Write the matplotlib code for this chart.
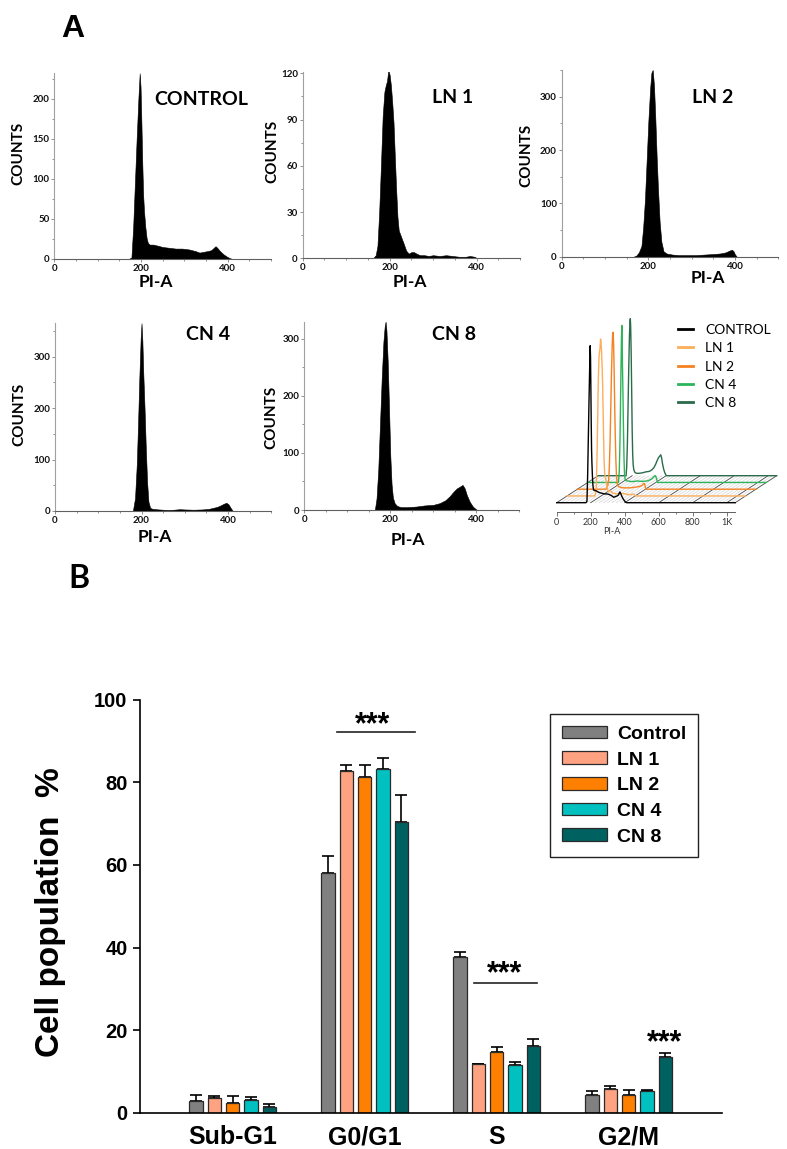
import numpy as np
import matplotlib
matplotlib.use('Agg')
import matplotlib.pyplot as plt
from matplotlib.ticker import MultipleLocator, FixedLocator

W, H = 787, 1149

# ---------------- Panel A: DNA-content histograms (PI-A channel vs counts)
control_pi = [172, 178, 182, 186, 190, 194, 197, 199, 201, 203, 205, 207, 210, 213, 216, 220, 228, 236,
              250, 265, 280, 295, 310, 325, 335, 345, 355, 362, 368, 372, 376, 382, 390, 398, 405, 412]
control_counts = [0, 2, 40, 95, 150, 200, 232, 215, 170, 120, 80, 60, 40, 26, 20, 18, 18, 17,
                  15, 14, 13, 13, 12, 10, 8, 9, 10, 11, 14, 16, 14, 10, 6, 3, 1, 0]

ln1_pi = [162, 168, 172, 176, 180, 184, 188, 191, 194, 197, 200, 203, 206, 209, 212, 215, 218, 221, 225,
          229, 233, 238, 244, 250, 256, 262, 270, 280, 290, 300, 315, 330, 345, 360, 375, 385, 395, 402]
ln1_counts = [0, 2, 8, 30, 60, 92, 108, 112, 115, 122, 119, 112, 101, 88, 66, 45, 27, 18, 15,
              12, 9, 5, 3, 4, 4, 3, 2, 2, 1.5, 2, 1.5, 2, 1.5, 1, 1, 1.5, 1, 0]

ln2_pi = [166, 172, 178, 184, 188, 192, 196, 200, 204, 207, 210, 213, 216, 219, 222, 226,
          230, 235, 242, 255, 270, 290, 310, 330, 350, 365, 378, 386, 392, 396, 400, 404]
ln2_counts = [0, 2, 8, 20, 55, 106, 180, 255, 315, 345, 350, 320, 260, 190, 130, 65,
              28, 10, 6, 4, 3, 3, 3, 4, 5, 6, 8, 11, 13, 11, 4, 0]

cn4_pi = [180, 185, 189, 192, 195, 198, 200, 202, 204, 207, 210, 213, 216, 220, 226, 240,
          260, 275, 288, 300, 320, 340, 355, 365, 375, 383, 390, 396, 401, 406, 411]
cn4_counts = [0, 25, 90, 170, 260, 335, 365, 330, 270, 200, 120, 55, 18, 6, 4, 3,
              2, 2.5, 3.5, 3, 2.5, 3, 4, 6, 8, 11, 14, 16, 13, 6, 0]

cn8_pi = [164, 168, 172, 176, 180, 184, 187, 189, 191, 194, 197, 200, 203, 206, 210, 216, 225,
          240, 260, 280, 300, 315, 328, 338, 347, 355, 362, 368, 373, 378, 385, 392, 398, 402]
cn8_counts = [0, 20, 70, 150, 230, 295, 322, 330, 315, 260, 180, 95, 45, 22, 12, 7, 5,
              5, 6, 8, 9, 12, 17, 24, 32, 38, 41, 44, 38, 26, 14, 6, 2, 0]

hist_titles = ['CONTROL', 'LN 1', 'LN 2', 'CN 4', 'CN 8']
hist_ymax = [232, 121, 350, 365, 330]
hist_ystep = [50, 30, 100, 100, 100]
hist_xticks = [0, 200, 400]

overlay_labels = ['CONTROL', 'LN 1', 'LN 2', 'CN 4', 'CN 8']
overlay_colors = ['#000000', '#FDAE5B', '#F58220', '#2DB45A', '#2A6B4C']
overlay_xticks = [0, 200, 400, 600, 800, 1000]
overlay_xticklabels = ['0', '200', '400', '600', '800', '1K']

# ---------------- Panel B: cell-cycle distribution (%)
phases = ['Sub-G1', 'G0/G1', 'S', 'G2/M']
groups = ['Control', 'LN 1', 'LN 2', 'CN 4', 'CN 8']
control_mean = [2.9, 58.1, 37.8, 4.2]
control_err = [1.4, 4.0, 1.2, 1.1]
ln1_mean = [3.6, 82.7, 11.7, 5.8]
ln1_err = [0.5, 1.6, 0.15, 0.7]
ln2_mean = [2.4, 81.4, 14.6, 4.2]
ln2_err = [1.7, 2.9, 1.4, 1.4]
cn4_mean = [3.0, 83.3, 11.5, 5.3]
cn4_err = [0.9, 2.6, 0.7, 0.25]
cn8_mean = [1.4, 70.4, 16.1, 13.5]
cn8_err = [0.8, 6.5, 1.7, 1.0]
bar_colors = ['#808080', '#FFA282', '#FF8000', '#00C0C0', '#006260']


def frect(x0, y0, x1, y1):
    return [x0 / W, 1 - y1 / H, (x1 - x0) / W, (y1 - y0) / H]


def fx(x):
    return x / W


def fy(y):
    return 1 - y / H


fig = plt.figure(figsize=(W / 100, H / 100), dpi=100)

LBL = 'Lato'
ARIAL = 'Liberation Sans'

# ---- Panel letters
fig.text(fx(61.5), fy(36.7), 'A', fontsize=23, fontweight='bold', family=ARIAL, ha='left', va='baseline')
fig.text(fx(68.0), fy(588.3), 'B', fontsize=23, fontweight='bold', family=LBL, ha='left', va='baseline')

# ---- Histograms
hist_pi = [control_pi, ln1_pi, ln2_pi, cn4_pi, cn8_pi]
hist_counts = [control_counts, ln1_counts, ln2_counts, cn4_counts, cn8_counts]
hist_boxes = [(54.3, 73.3, 271, 259), (302.7, 71.7, 520, 258.3), (561.7, 70, 778.4, 256.7),
              (55, 323.3, 271.3, 511), (304.3, 321.7, 519.3, 510)]
title_pos = [(201, 105), (453, 103), (712.7, 103.3), (208, 340), (454, 340)]
counts_pos = [(18.5, 153), (272.5, 151), (526, 155), (19, 414), (271, 417)]
pia_pos = [(156, 286.7), (410, 286.7), (708, 283.3), (155, 541.7), (408, 545)]

for k in range(5):
    ax = fig.add_axes(frect(*hist_boxes[k]))
    ax.fill_between(hist_pi[k], hist_counts[k], 0, color='black', lw=0.4)
    ax.set_xlim(0, 500)
    ax.set_ylim(0, hist_ymax[k])
    for s in ['top', 'right']:
        ax.spines[s].set_visible(False)
    ax.spines['left'].set_color('#a0a0a0')
    ax.spines['bottom'].set_color('#606060')
    ax.spines['left'].set_linewidth(0.8)
    ax.spines['bottom'].set_linewidth(0.8)
    yt = np.arange(0, hist_ymax[k] + 0.1, hist_ystep[k])
    ax.set_xticks(hist_xticks, [str(v) for v in hist_xticks], fontweight='bold', family=LBL)
    ax.set_yticks(yt, [str(int(v)) for v in yt], fontweight='bold', family=LBL)
    ax.xaxis.set_minor_locator(MultipleLocator(50))
    ax.yaxis.set_minor_locator(MultipleLocator(hist_ystep[k] / 2))
    ax.tick_params(which='both', direction='out', colors='#808080', labelcolor='#111111',
                   labelsize=7, pad=1, width=0.6)
    ax.tick_params(which='major', length=2.5)
    ax.tick_params(which='minor', length=1.5)
    fig.text(fx(title_pos[k][0]), fy(title_pos[k][1]), hist_titles[k], fontsize=14,
             fontweight='bold', family=LBL, ha='center', va='baseline')
    fig.text(fx(counts_pos[k][0]), fy(counts_pos[k][1]), 'COUNTS', fontsize=11,
             fontweight='bold', family=LBL, ha='center', va='center', rotation=90)
    fig.text(fx(pia_pos[k][0]), fy(pia_pos[k][1]), 'PI-A', fontsize=12.5,
             fontweight='bold', family=LBL, ha='center', va='baseline')

# ---- Overlay (offset waterfall of normalised histograms)
PX_PER_PI = 0.17
PX_PER_UNIT = 157.0
ZERO_X = 556.7
BASE_Y = 502.7
DX, DY = 61.0, 0.043
FLOOR_END = 1050
ov_box = (535, 300, 787, 548)
ov = fig.add_axes(frect(*ov_box))
ov.set_xlim((ov_box[0] - ZERO_X) / PX_PER_PI, (ov_box[2] - ZERO_X) / PX_PER_PI)
ov.set_ylim((BASE_Y - ov_box[3]) / PX_PER_UNIT, (BASE_Y - ov_box[1]) / PX_PER_UNIT)
ndepth = len(hist_pi) - 1
for v in np.arange(0, FLOOR_END + 1, 25):
    ov.plot([v, v + ndepth * DX], [0, ndepth * DY], color='#d2d2d2', lw=0.45, zorder=1)
for v in list(range(0, 1001, 200)) + [FLOOR_END]:
    ov.plot([v, v + ndepth * DX], [0, ndepth * DY], color='#505050', lw=0.6, zorder=1.5)
for k in range(ndepth, -1, -1):
    c = np.asarray(hist_counts[k], dtype=float)
    xs = np.concatenate([[0], hist_pi[k], [FLOOR_END]]) + k * DX
    ys = np.concatenate([[0], c / c.max(), [0]]) + k * DY
    ov.plot(xs, ys, color=overlay_colors[k], lw=1.0, zorder=10 - k, label=overlay_labels[k],
            solid_joinstyle='round')
for s in ['top', 'right', 'left']:
    ov.spines[s].set_visible(False)
ov.spines['bottom'].set_position(('data', (BASE_Y - 511.7) / PX_PER_UNIT))
ov.spines['bottom'].set_bounds(0, FLOOR_END)
ov.spines['bottom'].set_color('#606060')
ov.spines['bottom'].set_linewidth(0.7)
ov.set_yticks([])
ov.set_xticks(overlay_xticks, overlay_xticklabels, family=LBL)
ov.xaxis.set_minor_locator(FixedLocator(list(range(100, 1001, 200))))
ov.tick_params(axis='x', which='both', direction='out', colors='#606060', labelcolor='#333333',
               labelsize=6.5, pad=1.5, width=0.6)
ov.tick_params(axis='x', which='major', length=3)
ov.tick_params(axis='x', which='minor', length=1.5)
ov.patch.set_alpha(0)
fig.text(fx(611.7), fy(534.5), 'PI-A', fontsize=6.5, family=LBL, color='#333333', ha='center', va='baseline')
handles, labels = ov.get_legend_handles_labels()
order = [labels.index(l) for l in overlay_labels]
leg = ov.legend([handles[i] for i in order], [labels[i] for i in order], loc='upper left',
                bbox_to_anchor=(fx(678), fy(324)), bbox_transform=fig.transFigure,
                frameon=False, prop={'family': LBL, 'size': 10}, handlelength=1.1,
                handletextpad=0.85, labelspacing=0.45, borderpad=0, borderaxespad=0)
for ln in leg.get_lines():
    ln.set_linewidth(2.0)

# ---- Panel B bar chart
means = [control_mean, ln1_mean, ln2_mean, cn4_mean, cn8_mean]
errs = [control_err, ln1_err, ln2_err, cn4_err, cn8_err]
bx = fig.add_axes(frect(140, 699.7, 722, 1112.7))
xg = np.arange(len(phases))
width, step = 0.101, 0.139
for i in range(len(groups)):
    pos = xg + (i - 2) * step
    bx.bar(pos, means[i], width, color=bar_colors[i], edgecolor='#2a2a2a', linewidth=0.9,
           label=groups[i], zorder=2)
    bx.errorbar(pos, means[i], yerr=[np.zeros(len(phases)), errs[i]], fmt='none', ecolor='black',
                elinewidth=1.2, capsize=4, capthick=1.2, zorder=1)
bx.set_xlim(-0.702, 3.707)
bx.set_ylim(0, 100)
for s in ['top', 'right']:
    bx.spines[s].set_visible(False)
for s in ['left', 'bottom']:
    bx.spines[s].set_linewidth(1.2)
bx.set_yticks(np.arange(0, 101, 20), [str(v) for v in range(0, 101, 20)], fontweight='bold', family=ARIAL)
bx.set_xticks(xg, phases, fontweight='bold', family=ARIAL)
bx.tick_params(axis='y', direction='out', length=5, width=1.2, labelsize=14.5, pad=4)
bx.tick_params(axis='x', length=0, labelsize=18, pad=9)
fig.text(fx(50), fy(912), 'Cell population  %', rotation=90, fontsize=24, fontweight='bold',
         family=ARIAL, ha='center', va='center')

# significance marks
bx.plot([1 - 0.21, 1 + 0.38], [92.1, 92.1], color='#222222', lw=1.2)
bx.text(1.06, 90.1, '***', ha='center', va='bottom', fontsize=22, fontweight='bold', family=ARIAL)
bx.plot([2 - 0.172, 2 + 0.305], [31.5, 31.5], color='#222222', lw=1.2)
bx.text(2.062, 30.0, '***', ha='center', va='bottom', fontsize=22, fontweight='bold', family=ARIAL)
bx.text(3.274, 13.2, '***', ha='center', va='bottom', fontsize=22, fontweight='bold', family=ARIAL)

bx.legend(loc='upper left', bbox_to_anchor=(fx(550.3), fy(714)), bbox_transform=fig.transFigure,
          borderaxespad=0, prop={'family': ARIAL, 'weight': 'bold', 'size': 14}, frameon=True,
          fancybox=False, edgecolor='#222222', framealpha=1, handlelength=2.3, handleheight=0.62,
          handletextpad=0.55, labelspacing=0.44, borderpad=0.6)
bx.get_legend().get_frame().set_linewidth(1.0)

fig.savefig('out.png', dpi=100)
